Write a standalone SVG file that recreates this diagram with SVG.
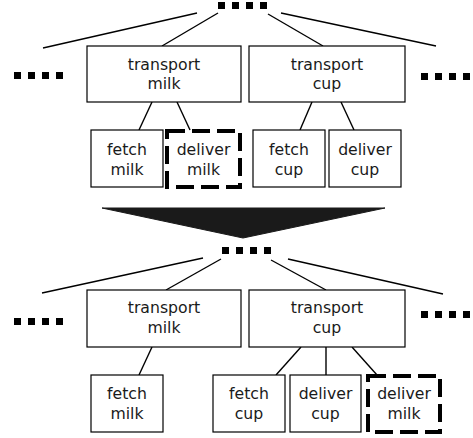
<svg xmlns="http://www.w3.org/2000/svg" width="473" height="438" viewBox="0 0 473 438">
<style>
  .box { fill: #fff; stroke: #000; stroke-width: 1.2; }
  .dash { fill: #fff; stroke: #000; stroke-width: 4; stroke-dasharray: 18 7; }
  .lbl { font-family: "DejaVu Sans", sans-serif; font-size: 15.7px; fill: #1a1a1a; text-anchor: middle; }
  .conn line { stroke: #000; stroke-width: 1.4; }
  .dot { fill: #000; }
</style>
<defs>
  <g id="dots">
    <rect class="dot" x="0" y="0" width="7" height="7"/>
    <rect class="dot" x="14" y="0" width="7" height="7"/>
    <rect class="dot" x="28" y="0" width="7" height="7"/>
    <rect class="dot" x="42" y="0" width="7" height="7"/>
  </g>
</defs>
<rect width="473" height="438" fill="#fff"/>

<g id="connectors" class="conn">
  <line x1="43" y1="48" x2="197" y2="13"/>
  <line x1="162" y1="46" x2="218" y2="13"/>
  <line x1="268" y1="14" x2="323" y2="46"/>
  <line x1="281" y1="13" x2="436" y2="46"/>
  <line x1="152" y1="102" x2="139" y2="130"/>
  <line x1="177" y1="102" x2="190" y2="130"/>
  <line x1="312" y1="102" x2="300" y2="130"/>
  <line x1="341" y1="102" x2="354" y2="130"/>
  <line x1="42" y1="293" x2="203" y2="258"/>
  <line x1="166" y1="290" x2="221" y2="259"/>
  <line x1="271" y1="260" x2="326" y2="290"/>
  <line x1="288" y1="259" x2="443" y2="294"/>
  <line x1="152" y1="347" x2="139" y2="375"/>
  <line x1="301" y1="347" x2="276" y2="375"/>
  <line x1="326" y1="347" x2="326" y2="375"/>
  <line x1="352" y1="347" x2="377" y2="375"/>
</g>

<g id="top-dots"><use href="#dots" x="218" y="2"/></g>
<g id="top-left-dots"><use href="#dots" x="14" y="72"/></g>
<g id="top-right-dots"><use href="#dots" x="421" y="73"/></g>

<g id="t-transport-milk">
  <rect class="box" x="87" y="46" width="154" height="56"/>
  <text class="lbl" x="164" y="70">transport</text>
  <text class="lbl" x="164" y="89">milk</text>
</g>
<g id="t-transport-cup">
  <rect class="box" x="249" y="46" width="156" height="56"/>
  <text class="lbl" x="327" y="70">transport</text>
  <text class="lbl" x="327" y="89">cup</text>
</g>
<g id="t-fetch-milk">
  <rect class="box" x="91" y="130" width="72" height="57"/>
  <text class="lbl" x="127" y="155">fetch</text>
  <text class="lbl" x="127" y="175">milk</text>
</g>
<g id="t-deliver-milk">
  <rect class="dash" x="167" y="131" width="73" height="56"/>
  <text class="lbl" x="203.5" y="155">deliver</text>
  <text class="lbl" x="203.5" y="175">milk</text>
</g>
<g id="t-fetch-cup">
  <rect class="box" x="253" y="130" width="72" height="57"/>
  <text class="lbl" x="289" y="155">fetch</text>
  <text class="lbl" x="289" y="175">cup</text>
</g>
<g id="t-deliver-cup">
  <rect class="box" x="329" y="130" width="72" height="57"/>
  <text class="lbl" x="365" y="155">deliver</text>
  <text class="lbl" x="365" y="175">cup</text>
</g>

<g id="arrow">
  <polygon points="102,208 385,208 243,238" fill="#1a1a1a" stroke="#1a1a1a" stroke-width="1"/>
</g>

<g id="mid-dots"><use href="#dots" x="222" y="247"/></g>
<g id="bottom-left-dots"><use href="#dots" x="14" y="318"/></g>
<g id="bottom-right-dots"><use href="#dots" x="421" y="311"/></g>

<g id="b-transport-milk">
  <rect class="box" x="87" y="290" width="154" height="57"/>
  <text class="lbl" x="164" y="313">transport</text>
  <text class="lbl" x="164" y="333">milk</text>
</g>
<g id="b-transport-cup">
  <rect class="box" x="249" y="290" width="156" height="57"/>
  <text class="lbl" x="327" y="313">transport</text>
  <text class="lbl" x="327" y="333">cup</text>
</g>
<g id="b-fetch-milk">
  <rect class="box" x="91" y="375" width="72" height="57"/>
  <text class="lbl" x="127" y="399">fetch</text>
  <text class="lbl" x="127" y="419">milk</text>
</g>
<g id="b-fetch-cup">
  <rect class="box" x="213" y="375" width="72" height="57"/>
  <text class="lbl" x="249" y="399">fetch</text>
  <text class="lbl" x="249" y="419">cup</text>
</g>
<g id="b-deliver-cup">
  <rect class="box" x="290" y="375" width="71" height="57"/>
  <text class="lbl" x="325.5" y="399">deliver</text>
  <text class="lbl" x="325.5" y="419">cup</text>
</g>
<g id="b-deliver-milk">
  <rect class="dash" x="368" y="376" width="72" height="56"/>
  <text class="lbl" x="404" y="399">deliver</text>
  <text class="lbl" x="404" y="419">milk</text>
</g>
</svg>
